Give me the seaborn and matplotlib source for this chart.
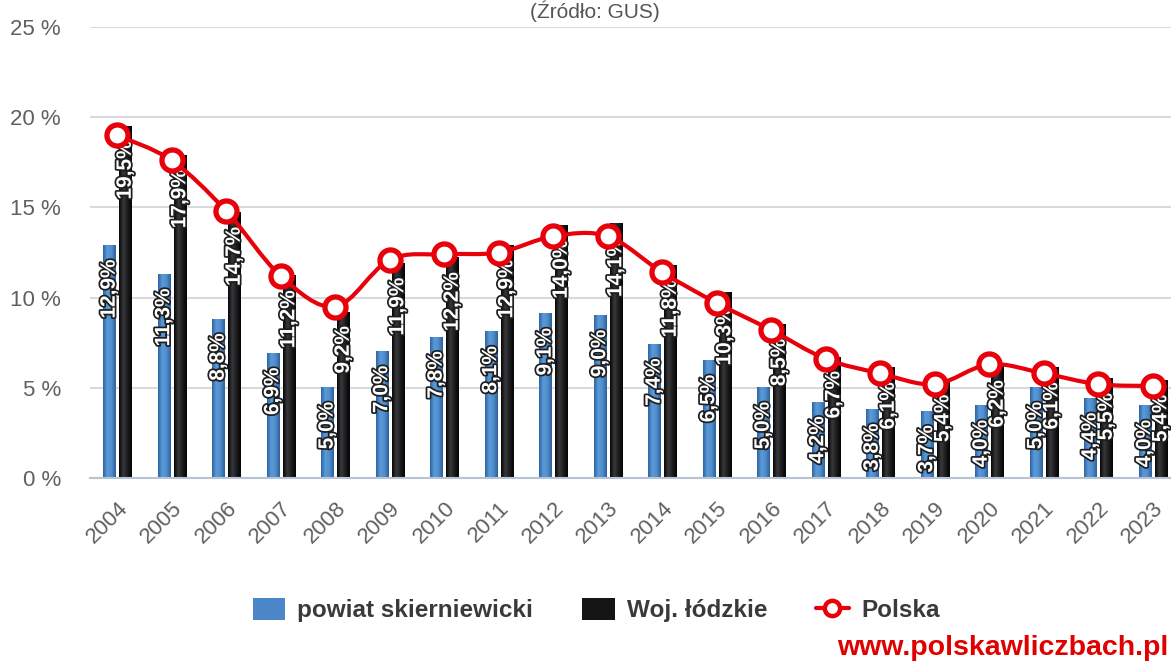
import numpy as np
import pandas as pd
import seaborn as sns
import matplotlib.pyplot as plt
import matplotlib.patheffects as pe
from matplotlib.colors import LinearSegmentedColormap
from matplotlib.patches import Patch, PathPatch
from matplotlib.lines import Line2D
from matplotlib.path import Path

# Stopa bezrobocia 2004-2023
years = ['2004', '2005', '2006', '2007', '2008', '2009', '2010', '2011', '2012', '2013',
         '2014', '2015', '2016', '2017', '2018', '2019', '2020', '2021', '2022', '2023']
powiat = [12.9, 11.3, 8.8, 6.9, 5.0, 7.0, 7.8, 8.1, 9.1, 9.0,
          7.4, 6.5, 5.0, 4.2, 3.8, 3.7, 4.0, 5.0, 4.4, 4.0]
woj = [19.5, 17.9, 14.7, 11.2, 9.2, 11.9, 12.2, 12.9, 14.0, 14.1,
       11.8, 10.3, 8.5, 6.7, 6.1, 5.4, 6.2, 6.1, 5.5, 5.4]
polska = [19.0, 17.6, 14.8, 11.2, 9.5, 12.1, 12.4, 12.5, 13.4, 13.4,
          11.4, 9.7, 8.2, 6.6, 5.8, 5.2, 6.3, 5.8, 5.2, 5.1]
series_names = ['powiat skierniewicki', 'Woj. łódzkie', 'Polska']
y_ticks = [0, 5, 10, 15, 20, 25]

BLUE = '#4a86c8'
BLACK = '#151515'
RED = '#e8000b'
GRID = '#d9d9d9'
AXIS = '#b8c4d4'

bars = pd.DataFrame({
    'rok': years * 2,
    'stopa': powiat + woj,
    'obszar': [series_names[0]] * len(years) + [series_names[1]] * len(years),
})

sns.set_style('white')
plt.rcParams['font.family'] = ['Liberation Sans', 'DejaVu Sans']

fig = plt.figure(figsize=(11.71, 6.64), dpi=100)
ax = fig.add_axes([90 / 1171, 186 / 664, 1090 / 1171, 451 / 664])

sns.barplot(data=bars, x='rok', y='stopa', hue='obszar', palette=[BLUE, BLACK],
            width=0.59, gap=0.25, saturation=1, legend=False, ax=ax, zorder=2)

# gradient fill like the original office chart
cmaps = [
    LinearSegmentedColormap.from_list('b', ['#2d62a0', '#5b9bd9', '#4f8dcc', '#2c5f99']),
    LinearSegmentedColormap.from_list('k', ['#050505', '#3a3a3e', '#1c1c1e', '#030303']),
]
grad = np.linspace(0, 1, 64).reshape(1, -1)
for cont, cmap, vals in zip(ax.containers, cmaps, [powiat, woj]):
    for bar, v in zip(cont, vals):
        x0 = bar.get_x()
        w = bar.get_width()
        h = bar.get_height()
        ax.imshow(grad, cmap=cmap, extent=(x0, x0 + w, 0, h), aspect='auto',
                  interpolation='bicubic', zorder=2)
        bar.set_facecolor('none')
        ax.annotate(f'{v:.1f}%'.replace('.', ','), xy=(x0 + w / 2, h),
                    xytext=(0, -10), textcoords='offset points',
                    rotation=90, ha='center', va='top', color='white',
                    fontsize=15, fontweight='bold', zorder=5,
                    path_effects=[pe.withStroke(linewidth=2.5, foreground='#1e1e1e')])

# smoothed Polska line (Bezier through the points)
xs = np.arange(len(years), dtype=float)
pts = np.column_stack([xs, polska])
verts = [pts[0]]
codes = [Path.MOVETO]
for i in range(len(pts) - 1):
    p0 = pts[max(i - 1, 0)]
    p1 = pts[i]
    p2 = pts[i + 1]
    p3 = pts[min(i + 2, len(pts) - 1)]
    verts += [p1 + (p2 - p0) / 6, p2 - (p3 - p1) / 6, p2]
    codes += [Path.CURVE4] * 3
ax.add_patch(PathPatch(Path(verts, codes), fill=False, edgecolor=RED, lw=3, zorder=6))
sns.scatterplot(x=xs, y=polska, ax=ax, marker='o', s=230, color='white',
                edgecolor=RED, linewidth=3.8, zorder=7, legend=False)

ax.set_xlim(-0.5, len(years) - 0.5)
ax.set_ylim(0, 25)
ax.set_xlabel('')
ax.set_ylabel('')

ax.set_yticks(y_ticks)
ax.set_yticklabels([f'{t} %' for t in y_ticks])
ax.tick_params(axis='y', length=0, pad=21, labelsize=16, labelcolor='#606060')
ax.grid(axis='y', color=GRID, lw=1.5, zorder=0)
ax.set_axisbelow(True)

ax.set_xticks(xs)
ax.set_xticklabels(years)
ax.set_xticks(np.arange(-0.5, len(years), 1), minor=True)
ax.tick_params(axis='x', which='major', length=0, pad=14, labelsize=16, labelcolor='#606060')
ax.tick_params(axis='x', which='minor', length=13, width=1.5, color=AXIS, direction='out')
for lbl in ax.get_xticklabels():
    lbl.set_rotation(45)
    lbl.set_ha('right')
    lbl.set_va('top')
    lbl.set_rotation_mode('anchor')

for side in ['top', 'right', 'left']:
    ax.spines[side].set_visible(False)
ax.spines['bottom'].set_color(AXIS)
ax.spines['bottom'].set_linewidth(1.5)

fig.text(595 / 1171, 1 - 1 / 664, '(Źródło: GUS)', ha='center', va='top',
         fontsize=15, color='#555555')

handles = [
    Patch(facecolor=BLUE, edgecolor='none'),
    Patch(facecolor=BLACK, edgecolor='none'),
    Line2D([0], [0], color=RED, lw=3, marker='o', markersize=11,
           markerfacecolor='white', markeredgecolor=RED, markeredgewidth=3.2),
]
leg = fig.legend(handles, series_names, loc='center', bbox_to_anchor=(596 / 1171, 1 - 610 / 664),
                 ncol=3, frameon=False, handlelength=1.35, handleheight=1.0,
                 handletextpad=0.5, columnspacing=2.0,
                 prop={'size': 17.5, 'weight': 'bold'})
for t in leg.get_texts():
    t.set_color('#3a3a3a')

fig.text(1168 / 1171, 1 - 648 / 664, 'www.polskawliczbach.pl', ha='right', va='center',
         fontsize=20.5, fontweight='bold', color='#e00000')

plt.savefig('out.png', dpi=100)
